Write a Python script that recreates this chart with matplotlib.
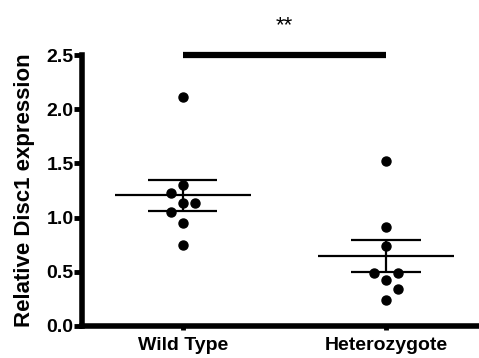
import numpy as np
import matplotlib
matplotlib.use("Agg")
import matplotlib.pyplot as plt

plt.rcParams['font.family'] = ['Liberation Sans', 'DejaVu Sans']
plt.rcParams['font.weight'] = 'bold'

categories = ["Wild Type", "Heterozygote"]
wild_type = [2.11, 1.30, 1.23, 1.13, 1.13, 1.05, 0.95, 0.75]
heterozygote = [1.52, 0.91, 0.74, 0.49, 0.49, 0.42, 0.34, 0.24]
wt_offsets = [0, 0, -1, 0, 1, -1, 0, 0]
het_offsets = [0, 0, 0, -1, 1, 0, 1, 0]
y_ticks = [0.0, 0.5, 1.0, 1.5, 2.0, 2.5]
y_label = "Relative Disc1 expression"
sig_text = "**"

fig = plt.figure(figsize=(4.79, 3.58), dpi=100)
ax = fig.add_axes([0.171, 0.090, 0.829, 0.756])

groups = [wild_type, heterozygote]
offsets = [wt_offsets, het_offsets]
spread = 0.06
for i, (vals, offs) in enumerate(zip(groups, offsets)):
    vals = np.array(vals)
    xs = i + spread * np.array(offs)
    ax.plot(xs, vals, 'o', color='black', markersize=6.5, zorder=3, clip_on=False)
    m = vals.mean()
    sem = vals.std(ddof=1) / np.sqrt(len(vals))
    ax.hlines(m, i - 0.335, i + 0.335, color='black', lw=1.6, zorder=4)
    ax.hlines([m - sem, m + sem], i - 0.17, i + 0.17, color='black', lw=1.6, zorder=4)
    ax.vlines(i, m - sem, m + sem, color='black', lw=1.6, zorder=4)

# significance bar
ax.plot([0, 1], [2.5, 2.5], color='black', lw=4.5, solid_capstyle='butt', clip_on=False)
ax.text(0.5, 2.77, sig_text, ha='center', va='center', fontsize=16, fontweight='normal')

ax.set_xlim(-0.4975, 1.458)
ax.set_ylim(0, 2.5)
ax.set_xticks([0, 1])
ax.set_xticklabels(categories, fontsize=14, fontweight='bold')
ax.set_yticks(y_ticks)
ax.set_yticklabels([f"{v:.1f}" for v in y_ticks], fontsize=14, fontweight='bold')
ax.set_ylabel(y_label, fontsize=16, fontweight='bold', labelpad=8)

for s in ['top', 'right']:
    ax.spines[s].set_visible(False)
for s in ['left', 'bottom']:
    ax.spines[s].set_linewidth(4)
ax.tick_params(axis='y', length=6, width=3.5, pad=0)
ax.tick_params(axis='x', length=3, width=3.5, pad=5)

fig.savefig("out.png", dpi=100)
